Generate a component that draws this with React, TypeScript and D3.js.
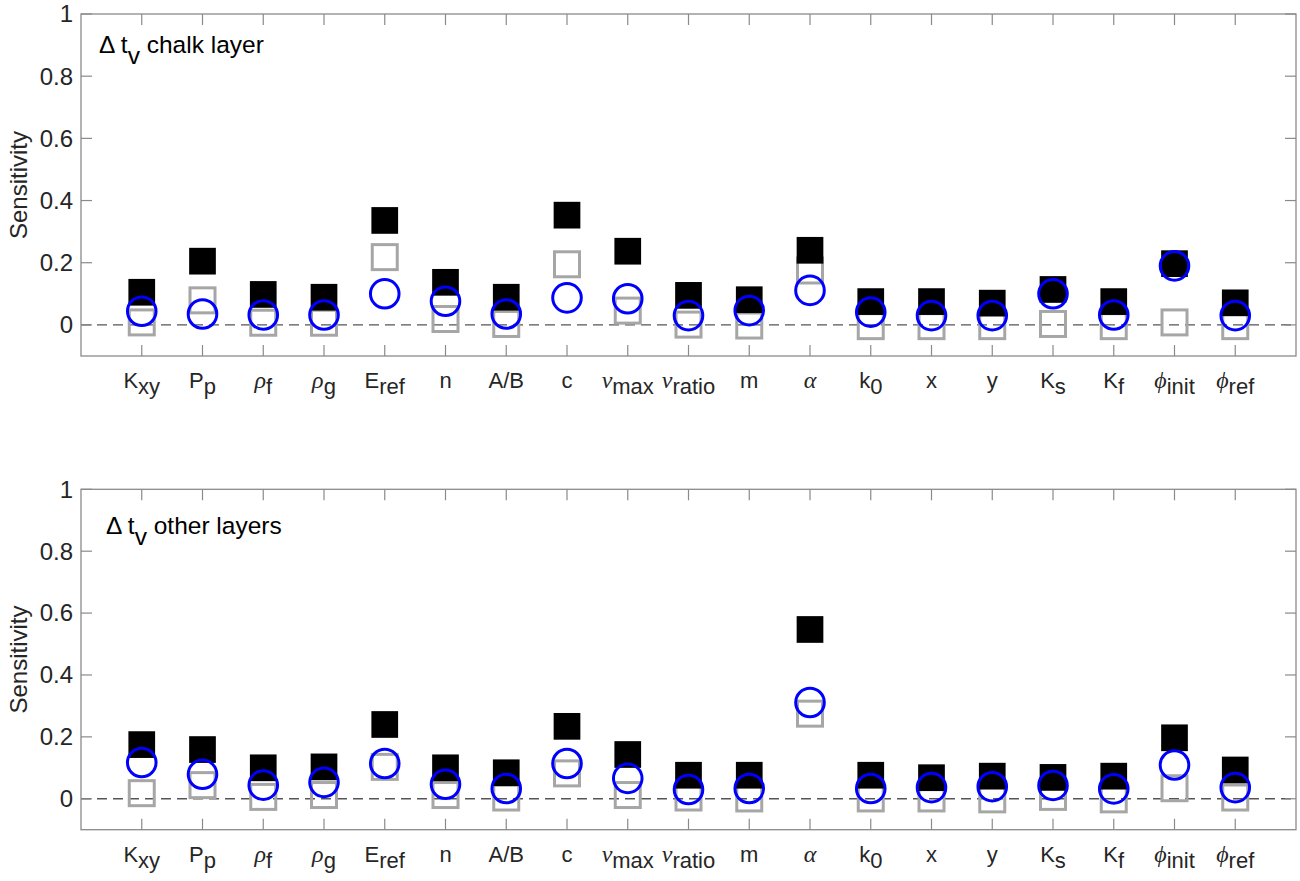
import React from "react";
import * as d3 from "d3";

// ---------- data ----------
const categories = [
  { main: "K", sub: "xy", greek: false },
  { main: "P", sub: "p", greek: false },
  { main: "ρ", sub: "f", greek: true },
  { main: "ρ", sub: "g", greek: true },
  { main: "E", sub: "ref", greek: false },
  { main: "n", sub: "", greek: false },
  { main: "A/B", sub: "", greek: false },
  { main: "c", sub: "", greek: false },
  { main: "ν", sub: "max", greek: true },
  { main: "ν", sub: "ratio", greek: true },
  { main: "m", sub: "", greek: false },
  { main: "α", sub: "", greek: true },
  { main: "k", sub: "0", greek: false },
  { main: "x", sub: "", greek: false },
  { main: "y", sub: "", greek: false },
  { main: "K", sub: "s", greek: false },
  { main: "K", sub: "f", greek: false },
  { main: "ϕ", sub: "init", greek: true },
  { main: "ϕ", sub: "ref", greek: true },
];

const yTicks = [0, 0.2, 0.4, 0.6, 0.8, 1];
const yTickLabels = ["0", "0.2", "0.4", "0.6", "0.8", "1"];

// Panel 1: Δ t_v chalk layer
const chalkBlack = [0.105, 0.205, 0.098, 0.089, 0.336, 0.137, 0.089, 0.353, 0.237, 0.095, 0.081, 0.24, 0.075, 0.075, 0.07, 0.114, 0.075, 0.197, 0.071];
const chalkGray = [0.008, 0.079, 0.007, 0.007, 0.218, 0.019, 0.003, 0.195, 0.046, 0.001, -0.002, 0.175, -0.004, -0.004, -0.004, 0.003, -0.004, 0.008, -0.004];
const chalkBlue = [0.044, 0.035, 0.032, 0.032, 0.1, 0.076, 0.035, 0.087, 0.084, 0.03, 0.046, 0.111, 0.041, 0.03, 0.03, 0.1, 0.032, 0.19, 0.03];

// Panel 2: Δ t_v other layers
const otherBlack = [0.175, 0.159, 0.1, 0.103, 0.24, 0.1, 0.084, 0.234, 0.143, 0.076, 0.076, 0.547, 0.076, 0.068, 0.073, 0.069, 0.073, 0.197, 0.093];
const otherGray = [0.018, 0.044, 0.006, 0.012, 0.103, 0.012, 0.004, 0.082, 0.012, 0.004, 0.001, 0.275, 0.001, 0.001, -0.002, 0.006, -0.002, 0.034, 0.004];
const otherBlue = [0.117, 0.079, 0.044, 0.053, 0.114, 0.047, 0.033, 0.114, 0.066, 0.03, 0.033, 0.311, 0.033, 0.036, 0.039, 0.043, 0.032, 0.109, 0.036];

const panels = [
  { title: "chalk layer", black: chalkBlack, gray: chalkGray, blue: chalkBlue, top: 14, bottom: 356, tx: 99, ty: 53 },
  { title: "other layers", black: otherBlack, gray: otherGray, blue: otherBlue, top: 489.3, bottom: 829.7, tx: 106, ty: 534 },
];

// ---------- layout ----------
const W = 1300;
const H = 881;
const LEFT = 81;
const RIGHT = 1296;
const FONT = "'Liberation Sans', Arial, Helvetica, sans-serif";
const GREEK_FONT = "'Liberation Serif', 'DejaVu Serif', serif";
const AXIS_COLOR = "#8a8a8a";
const TEXT_COLOR = "#262626";
const TICK_LEN = 11;
const FS_CAT = 22;
const FS_TICK = 24;

const x = d3.scaleLinear().domain([0, 20]).range([LEFT, RIGHT]);

function Panel({ p }: { p: (typeof panels)[number] }) {
  const y = d3.scaleLinear().domain([-0.1, 1]).range([p.bottom, p.top]);
  const idx = d3.range(categories.length);
  const sq = 26.7;
  const gsq = 25;
  const r = 14.3;
  return (
    <g>
      {/* zero dashed line */}
      <line x1={LEFT} x2={RIGHT} y1={y(0)} y2={y(0)} stroke="#555" strokeWidth={1.4} strokeDasharray="10,6" />
      {/* gray open squares */}
      {idx.map((i) => (
        <rect key={"g" + i} x={x(i + 1) - gsq / 2} y={y(p.gray[i]) - gsq / 2} width={gsq} height={gsq}
          fill="none" stroke="#a6a6a6" strokeWidth={3} />
      ))}
      {/* black filled squares */}
      {idx.map((i) => (
        <rect key={"b" + i} x={x(i + 1) - sq / 2} y={y(p.black[i]) - sq / 2} width={sq} height={sq} fill="#000" />
      ))}
      {/* blue circles */}
      {idx.map((i) => (
        <circle key={"c" + i} cx={x(i + 1)} cy={y(p.blue[i])} r={r} fill="none" stroke="#0000ff" strokeWidth={3} />
      ))}
      {/* box */}
      <rect x={LEFT} y={p.top} width={RIGHT - LEFT} height={p.bottom - p.top} fill="none" stroke={AXIS_COLOR} strokeWidth={1.3} />
      {/* x ticks (bottom + top, inward) */}
      {idx.map((i) => (
        <g key={"xt" + i}>
          <line x1={x(i + 1)} x2={x(i + 1)} y1={p.bottom} y2={p.bottom - TICK_LEN} stroke={AXIS_COLOR} strokeWidth={1.2} />
          <line x1={x(i + 1)} x2={x(i + 1)} y1={p.top} y2={p.top + TICK_LEN} stroke={AXIS_COLOR} strokeWidth={1.2} />
        </g>
      ))}
      {/* y ticks (left + right, inward) */}
      {yTicks.map((t, k) => (
        <g key={"yt" + k}>
          <line x1={LEFT} x2={LEFT + TICK_LEN} y1={y(t)} y2={y(t)} stroke={AXIS_COLOR} strokeWidth={1.2} />
          <line x1={RIGHT} x2={RIGHT - TICK_LEN} y1={y(t)} y2={y(t)} stroke={AXIS_COLOR} strokeWidth={1.2} />
          <text x={LEFT - 8} y={y(t)} dy="0.35em" textAnchor="end" fontFamily={FONT} fontSize={FS_TICK} fill={TEXT_COLOR}>
            {yTickLabels[k]}
          </text>
        </g>
      ))}
      {/* category labels */}
      {categories.map((c, i) => (
        <text key={"xl" + i} x={x(i + 1)} y={p.bottom + 32} textAnchor="middle" fontFamily={FONT} fontSize={FS_CAT} fill={TEXT_COLOR}>
          {c.greek ? (
            <tspan fontFamily={GREEK_FONT} fontStyle="italic" fontSize={FS_CAT + 2}>{c.main}</tspan>
          ) : (
            <tspan>{c.main}</tspan>
          )}
          {c.sub ? <tspan dy={6}>{c.sub}</tspan> : null}
        </text>
      ))}
      {/* y axis label */}
      <text transform={`translate(27,${(p.top + p.bottom) / 2}) rotate(-90)`} textAnchor="middle" fontFamily={FONT} fontSize={FS_TICK} fill={TEXT_COLOR}>
        Sensitivity
      </text>
      {/* panel title */}
      <text x={p.tx} y={p.ty} fontFamily={FONT} fontSize={24.5} fill="#000">
        <tspan>Δ t</tspan>
        <tspan dy={11}>v</tspan>
        <tspan dy={-11}>{" " + p.title}</tspan>
      </text>
    </g>
  );
}

export default function App() {
  return (
    <svg width={W} height={H} style={{ position: "absolute", left: 0, top: 0, background: "#fff" }}>
      <rect x={0} y={0} width={W} height={H} fill="#fff" />
      {panels.map((p, k) => (
        <Panel key={k} p={p} />
      ))}
    </svg>
  );
}
